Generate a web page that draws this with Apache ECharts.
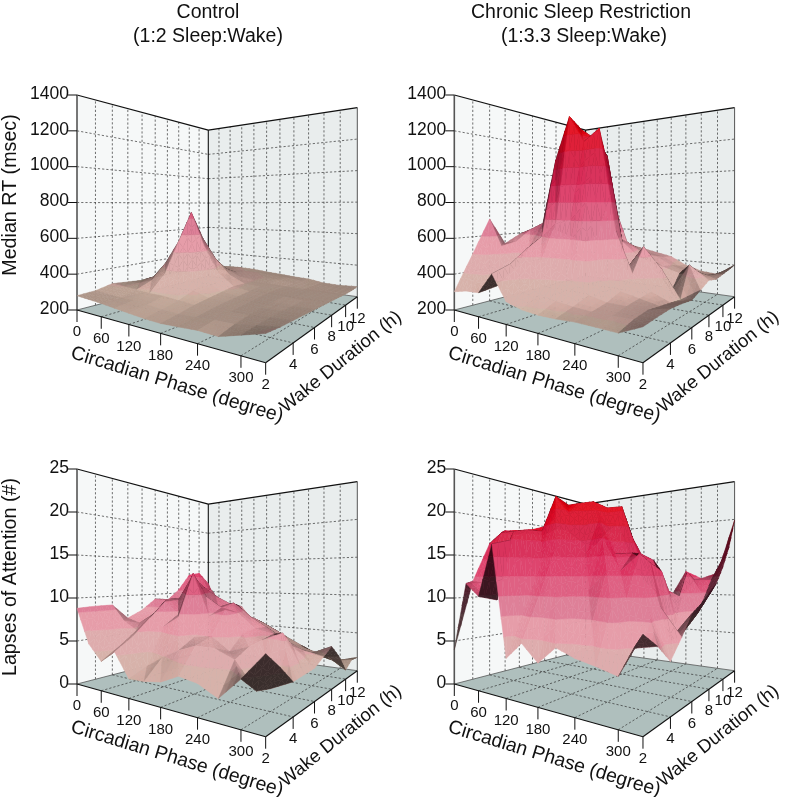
<!DOCTYPE html>
<html><head><meta charset="utf-8">
<style>html,body{margin:0;padding:0;background:#fff}#c{width:793px;height:797px}</style>
<script src="https://cdn.jsdelivr.net/npm/echarts@6/dist/echarts.min.js"></script>
</head><body><div id="c"></div>
<script>
const phases=[0,30,60,90,120,150,180,210,240,270,300,330];
const wakes=[2,3,4,5,6,7,8,9,10,11,12];
const phaseTicks=[0,60,120,180,240,300];
const wakeTicks=[2,4,6,8,10,12];
const rtTicks=[200,400,600,800,1000,1200,1400];
const lapseTicks=[0,5,10,15,20,25];
// rows: wake 2..12, columns: phase 0..330
const controlRT=[
[280,275,270,262,255,248,245,250,256,252,280,308],
[285,280,275,275,270,262,258,262,268,270,285,300],
[305,300,295,290,290,282,275,272,275,280,288,295],
[295,300,330,380,350,310,285,280,280,285,288,290],
[285,320,420,560,460,340,295,285,285,290,285,285],
[285,370,500,735,520,370,305,290,290,290,285,280],
[285,340,440,560,430,340,300,295,290,285,280,275],
[285,310,350,420,350,310,300,295,285,280,275,270],
[282,295,310,320,310,300,300,295,285,275,270,265],
[282,290,300,305,300,300,295,290,280,270,262,262],
[282,290,298,300,298,290,285,278,275,260,258,264]];
const restrictedRT=[
[302,320,326,437,311,290,283,285,291,290,288,333],
[500,450,340,470,380,340,320,310,305,305,310,340],
[700,540,420,540,480,440,400,340,320,320,320,345],
[540,560,530,600,680,700,800,430,350,330,310,340],
[590,627,670,1060,1310,1150,1214,650,420,340,300,330],
[610,640,680,1050,1250,1180,930,420,552,440,290,356],
[620,650,700,1000,1150,1090,560,480,450,290,455,385],
[600,650,700,950,1150,570,520,470,408,379,400,370],
[560,620,680,1100,790,530,480,450,400,370,360,380],
[520,580,640,1000,520,480,450,430,380,350,340,390],
[480,540,800,520,480,460,440,420,370,340,330,401]];
const controlLapses=[
[8.8,4.9,3.2,4.5,2.0,2.1,2.4,3.3,3.0,2.1,4.1,6.4],
[8.9,6.5,4.5,5.8,2.8,4.0,5.0,5.7,5.7,4.9,2.5,4.85],
[8.9,7.0,6.0,7.6,6.8,8.0,6.0,6.3,5.0,5.7,2.1,3.1],
[7.0,6.5,7.5,9.4,8.0,12.8,8.0,8.8,6.5,6.0,6.9,3.2],
[7.9,7.5,9.3,9.5,12.5,10,8.8,8.3,6.7,6.3,5.2,3.3],
[9.3,9.3,9.5,10,11,8.6,9.2,7.7,6.6,5.4,4.4,4.0],
[9.0,9.2,9.5,10,9.8,8.9,8,6.4,5.4,3.8,3.7,4.7],
[10.5,10,10,10,8.5,8.3,6.4,5.7,4.4,3.5,3,3.2],
[12.8,11,10.4,7.8,8.4,6.8,6,5,3.5,3,2.5,1.1],
[13.1,10,7,8.3,6.5,6,5,4,3,2,1.5,1.9],
[11.4,7.2,8.15,7.7,5.4,5.1,3.0,1.75,1.9,1.3,1.1,1.76]];
const restrictedLapses=[
[4.0,11.7,10.3,15.9,4.1,5.85,4.2,5.9,5.2,4.8,4.3,7.9],
[11.9,11.7,9.8,16.5,9,10.5,11.5,8,8,9.5,6.2,6.6],
[16.7,17.9,17.9,17.9,14,15.5,12,11,13,10.2,9.6,4.9],
[18.6,18,18,18,19.5,16.5,15,16.5,13,14.7,9.5,6.7],
[18.9,18.5,18,22.7,20.1,18.5,19,15,15,13.8,6,8.7],
[19.3,19,19,22,22,21,18,15,14,13,6,9.5],
[20,20,20,22,22.6,21.5,21.4,15.5,14.4,10,7,10.5],
[20,20,21,23,22,21,17.8,14,11,10,8,11.6],
[20,20,21,22,21,19,15,12,4.1,13,9.9,13.6],
[19,19,20,21,20,17,13,10,9.5,12,12,16.2],
[18,18,20,21,15,12,10,9.6,13.2,12.2,12.9,19.9]];

const panels=[
 {vals:controlRT,ticks:rtTicks,dx:0,dy:0},
 {vals:restrictedRT,ticks:rtTicks,dx:377.3,dy:0},
 {vals:controlLapses,ticks:lapseTicks,dx:0,dy:374},
 {vals:restrictedLapses,ticks:lapseTicks,dx:377.3,dy:374}];

// perspective view of the plot box, in panel units
const W=280.3,H=267.7,WALL=215;
const PL=[0,215],PF=[188.67,267.7],PR=[280.3,201.7],PB=[131.3,181];
const dx1=PF[0]-PR[0],dy1=PF[1]-PR[1],dx2=PB[0]-PR[0],dy2=PB[1]-PR[1];
const sx=PL[0]-PF[0]+PR[0]-PB[0],sy=PL[1]-PF[1]+PR[1]-PB[1];
const dt=dx1*dy2-dy1*dx2;
const hg=(sx*dy2-sy*dx2)/dt,hh=(dx1*sy-dy1*sx)/dt;
const ha=PF[0]*(1+hg)-PL[0],hb=PB[0]*(1+hh)-PL[0],hc=PL[0];
const hd=PF[1]*(1+hg)-PL[1],he=PB[1]*(1+hh)-PL[1],hf=PL[1];
function proj(u,v,fz){const den=1+hg*u+hh*v;
  return [(ha*u+hb*v+hc)/den,(hd*u+he*v+hf-fz*WALL)/den];}
const U=p=>p/330,V=w=>(w-2)/10;

// colour
const stops=[[0,[202,178,160]],[.1,[208,172,160]],[.2,[218,165,165]],[.3,[228,145,160]],[.4,[216,105,135]],
 [.5,[222,62,105]],[.6,[214,32,80]],[.7,[212,20,60]],[.85,[225,0,20]],[1,[235,0,0]]];
function cmap(f){for(let i=1;i<stops.length;i++){if(f<=stops[i][0]){const a=stops[i-1],b=stops[i],t=(f-a[0])/(b[0]-a[0]);
  return a[1].map((c,k)=>c+(b[1][k]-c)*t);}}return stops[stops.length-1][1];}
const VN=Math.hypot(.66,.66,.34),VX=.66/VN,VY=-.66/VN,VZ=.34/VN,BOXH=1,BANDS=12,SUB=3;
function normalOf(a,b,c){
  const ax=b[0]-a[0],ay=b[1]-a[1],az=(b[2]-a[2])*BOXH,bx=c[0]-a[0],by=c[1]-a[1],bz=(c[2]-a[2])*BOXH;
  let nx=ay*bz-az*by,ny=az*bx-ax*bz,nz=ax*by-ay*bx;
  if(nz<0){nx=-nx;ny=-ny;nz=-nz;}
  const n=Math.hypot(nx,ny,nz);return [nx/n,ny/n,nz/n];}
const facing=n=>n[0]*VX+n[1]*VY+n[2]*VZ;
function colour(f,d){const s=d<0?Math.max(.27,.36+.3*d):Math.min(1.12,.4+1.1*d);const c=cmap(f);const o=c.map(v=>s<=1?v*s:v+(255-v)*(s-1)*.8);
  return 'rgb('+o.map(v=>Math.round(Math.min(255,v))).join(',')+')';}
function clip(poly,lev,keepAbove){const out=[];
  for(let i=0;i<poly.length;i++){const p=poly[i],q=poly[(i+1)%poly.length];
    const pin=keepAbove?p[2]>=lev:p[2]<=lev,qin=keepAbove?q[2]>=lev:q[2]<=lev;
    if(pin)out.push(p);
    if(pin!==qin){const t=(lev-p[2])/(q[2]-p[2]);const o=[];for(let k=0;k<p.length;k++)o.push(p[k]+(q[k]-p[k])*t);o[2]=lev;out.push(o);}}
  return out;}

function surfaceSeries(pi,P){
  const cells=[];
  for(let j=wakes.length-2;j>=0;j--)for(let i=0;i<phases.length-1;i++)cells.push([i,j]);
  const lo=P.ticks[0],hi=P.ticks[P.ticks.length-1];
  const nI=phases.length,nJ=wakes.length;
  const node=(i,j)=>[U(phases[i]),V(wakes[j]),(P.vals[j][i]-lo)/(hi-lo)];
  const vd=[];
  for(let j=0;j<nJ;j++){vd.push([]);for(let i=0;i<nI;i++){
    const a=node(Math.max(i-1,0),j),b=node(Math.min(i+1,nI-1),j),c=node(i,Math.max(j-1,0)),d=node(i,Math.min(j+1,nJ-1));
    const ex=[b[0]-a[0],b[1]-a[1],(b[2]-a[2])*BOXH],ey=[d[0]-c[0],d[1]-c[1],(d[2]-c[2])*BOXH];
    let n=[ex[1]*ey[2]-ex[2]*ey[1],ex[2]*ey[0]-ex[0]*ey[2],ex[0]*ey[1]-ex[1]*ey[0]];
    const l=Math.hypot(n[0],n[1],n[2]);n=[n[0]/l,n[1]/l,n[2]/l];
    vd[j].push(facing(n));}}
  return {type:'custom',coordinateSystem:'cartesian2d',xAxisIndex:pi,yAxisIndex:pi,silent:true,animation:false,clip:false,
   data:cells,encode:{x:0,y:1},
   renderItem(params,api){
    const i=api.value(0),j=api.value(1);
    const mk=(a,b)=>{const n=node(a,b);n.push(vd[b][a]);return n;};
    const A=mk(i,j),B=mk(i+1,j),C=mk(i,j+1),D=mk(i+1,j+1);
    const children=[];
    for(const tri of [[A,B,C],[B,D,C]]){
      const face=normalOf(tri[0],tri[1],tri[2]);
      const sA=proj(tri[0][0],tri[0][1],tri[0][2]),sB=proj(tri[1][0],tri[1][1],tri[1][2]),sC=proj(tri[2][0],tri[2][1],tri[2][2]);
      const area=(sB[0]-sA[0])*(sC[1]-sA[1])-(sB[1]-sA[1])*(sC[0]-sA[0]);
      const fl0=proj(tri[0][0],tri[0][1],0),fl1=proj(tri[1][0],tri[1][1],0),fl2=proj(tri[2][0],tri[2][1],0);
      const area0=(fl1[0]-fl0[0])*(fl2[1]-fl0[1])-(fl1[1]-fl0[1])*(fl2[0]-fl0[0]);
      const back=area*area0<0, fd=facing(face);
      const at=(a,b)=>{const c=1-a-b;return tri[0].map((v,k)=>v*c+tri[1][k]*a+tri[2][k]*b);};
      const subs=[];
      for(let p=0;p<SUB;p++)for(let q=0;q<SUB-p;q++){
        subs.push([at(p/SUB,q/SUB),at((p+1)/SUB,q/SUB),at(p/SUB,(q+1)/SUB)]);
        if(p+q<SUB-1)subs.push([at((p+1)/SUB,q/SUB),at((p+1)/SUB,(q+1)/SUB),at(p/SUB,(q+1)/SUB)]);}
      for(const st of subs){
        const sm=(st[0][3]+st[1][3]+st[2][3])/3;
        const d=back?Math.min(-.02,fd-.1):Math.max(.02,.75*fd+.25*sm);
        const zs=st.map(p=>p[2]),mn=Math.min(...zs),mx=Math.max(...zs);
        for(let k=Math.floor(mn*BANDS);k<=Math.floor(mx*BANDS)&&k<BANDS;k++){
          let poly=clip(st,k/BANDS,true);if(poly.length<3)continue;
          poly=clip(poly,(k+1)/BANDS,false);if(poly.length<3)continue;
          const col=colour((k+.5)/BANDS,d);
          children.push({type:'polygon',shape:{points:poly.map(p=>api.coord(proj(p[0],p[1],p[2])))},
            style:{fill:col,stroke:col,lineWidth:.5}});
        }}}
    return {type:'group',children};
   }};
}
function frameSeries(pi,P){
  const lo=P.ticks[0],hi=P.ticks[P.ticks.length-1];
  return {type:'custom',coordinateSystem:'cartesian2d',xAxisIndex:pi,yAxisIndex:pi,silent:true,animation:false,clip:false,
   data:[[0,0]],encode:{x:0,y:1},
   renderItem(params,api){
    const pt=(u,v,f)=>api.coord(proj(u,v,f));const ch=[];
    const quad=(pts,fill)=>ch.push({type:'polygon',shape:{points:pts},style:{fill}});
    const line=(a,b,c,w,dash)=>ch.push({type:'line',shape:{x1:a[0],y1:a[1],x2:b[0],y2:b[1]},style:{stroke:c,lineWidth:w,lineDash:dash||null}});
    const text=(p,s,size,align)=>ch.push({type:'text',x:p[0],y:p[1],style:{text:s,fontFamily:'Liberation Sans',fontSize:size,fill:'#111',align:align||'center',verticalAlign:'middle'}});
    quad([pt(0,0,0),pt(0,1,0),pt(0,1,1),pt(0,0,1)],'#f6f8f8');
    quad([pt(0,1,0),pt(1,1,0),pt(1,1,1),pt(0,1,1)],'#e9eded');
    quad([pt(0,0,0),pt(1,0,0),pt(1,1,0),pt(0,1,0)],'#afbfbd');
    const dash=[2.2,2],gc='#333';
    for(const w of wakes.slice(1,-1))line(pt(0,V(w),0),pt(0,V(w),1),gc,.7,dash);
    for(const p of phases.slice(1,-1))line(pt(U(p),1,0),pt(U(p),1,1),gc,.7,dash);
    for(const t of P.ticks.slice(1,-1)){const f=(t-lo)/(hi-lo);
      line(pt(0,0,f),pt(0,1,f),gc,.7,dash);line(pt(0,1,f),pt(1,1,f),gc,.7,dash);}
    for(const p of phaseTicks.slice(1))line(pt(U(p),0,0),pt(U(p),1,0),gc,.7,dash);
    for(const w of wakeTicks.slice(1,-1))line(pt(0,V(w),0),pt(1,V(w),0),gc,.7,dash);
    line(pt(0,0,0),pt(0,1,0),'#444',.7);line(pt(0,1,0),pt(1,1,0),'#444',.7);
    line(pt(0,0,1),pt(0,1,1),'#111',1.2);line(pt(0,1,1),pt(1,1,1),'#111',1.2);
    line(pt(0,1,0),pt(0,1,1),'#111',1.1);
    line(pt(0,0,0),pt(0,0,1),'#555',1.6);line(pt(1,1,0),pt(1,1,1),'#555',1);
    line(pt(0,0,0),pt(1,0,0),'#111',1.1);line(pt(1,0,0),pt(1,1,0),'#111',1.1);
    for(const t of P.ticks){const a=pt(0,0,(t-lo)/(hi-lo));line([a[0]-9,a[1]],a,'#111',1);text([a[0]-8,a[1]-1],String(t),17.5,'right');}
    for(const p of phaseTicks){const a=pt(U(p),0,0);line(a,[a[0],a[1]+12],'#111',1);text([a[0],a[1]+22],String(p),15);}
    for(const w of wakeTicks){const a=pt(1,V(w),0);line(a,[a[0],a[1]+12],'#111',1);text([a[0],a[1]+22],String(w),15);}
    return {type:'group',children:ch};
   }};
}
const grids=[],xs=[],ys=[],series=[];
panels.forEach((P,i)=>{
  grids.push({left:77+P.dx,top:95+P.dy,width:W,height:H,containLabel:false});
  xs.push({type:'value',gridIndex:i,min:0,max:W,show:false});
  ys.push({type:'value',gridIndex:i,min:0,max:H,inverse:true,show:false});
  series.push(frameSeries(i,P),surfaceSeries(i,P));
});
const T=(text,x,y,rot,size)=>({type:'text',x,y,rotation:(rot||0)*Math.PI/180,z:50,
  style:{text,fontFamily:'Liberation Sans',fontSize:size||19.5,fill:'#111',align:'center',verticalAlign:'middle'}});
const labels=[T('Control',208,13),T('(1:2 Sleep:Wake)',208,37),
 T('Chronic Sleep Restriction',581,13),T('(1:3.3 Sleep:Wake)',584,37),
 T('Median RT (msec)',11,195,90,19.7),T('Lapses of Attention (#)',11,577,90,19.7)];
panels.forEach(P=>{labels.push(T('Circadian Phase (degree)',177+P.dx,385+P.dy,-17,19.4),T('Wake Duration (h)',341+P.dx,362+P.dy,39,18.6));});
const chart=echarts.init(document.getElementById('c'),null,{renderer:'canvas'});
chart.setOption({animation:false,grid:grids,xAxis:xs,yAxis:ys,series,graphic:labels});
</script></body></html>
